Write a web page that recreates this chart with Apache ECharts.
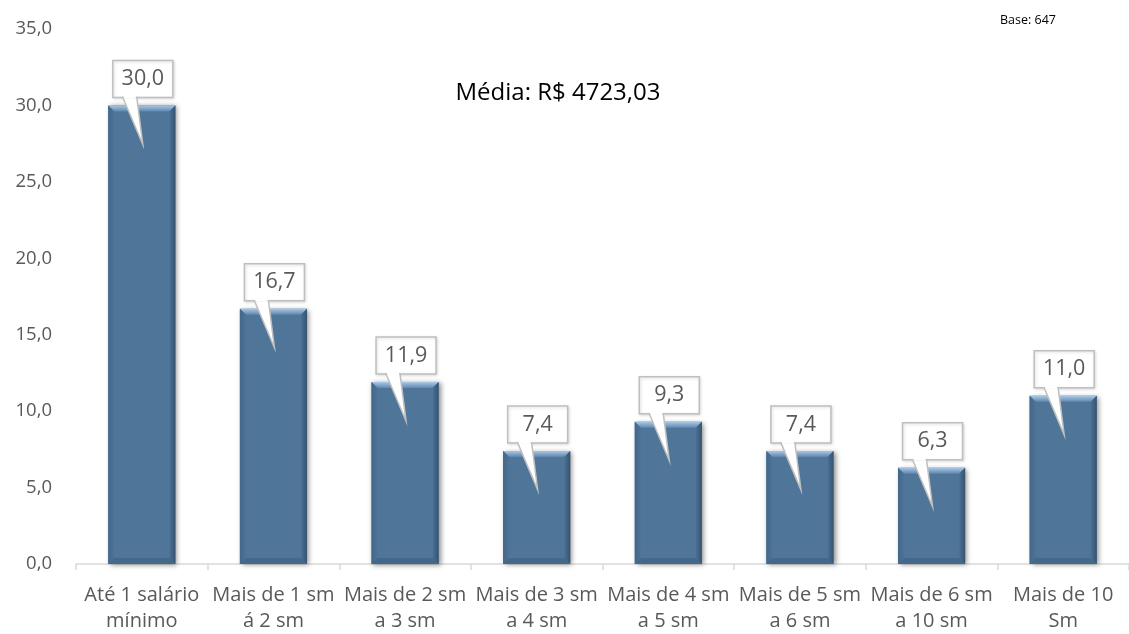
<!DOCTYPE html>
<html><head><meta charset="utf-8">
<script src="https://cdn.jsdelivr.net/npm/echarts@6/dist/echarts.min.js"></script>
<style>html,body{margin:0;padding:0;background:#fff}#c{width:1129px;height:634px}</style>
</head><body><div id="c"></div>
<script>
var categories = ['Até 1 salário\nmínimo','Mais de 1 sm\ná 2 sm','Mais de 2 sm\na 3 sm','Mais de 3 sm\na 4 sm','Mais de 4 sm\na 5 sm','Mais de 5 sm\na 6 sm','Mais de 6 sm\na 10 sm','Mais de 10\nSm'];
var values = [30.0, 16.7, 11.9, 7.4, 9.3, 7.4, 6.3, 11.0];
var yMin = 0, yMax = 35, yStep = 5;
var meanText = 'Média: R$ 4723,03';
var baseText = 'Base: 647';

var FONT = 'Open Sans';
function fmt(v){ return v.toFixed(1).replace('.', ','); }
var pts = values.map(function(v,i){ return [i, v]; });

var chart = echarts.init(document.getElementById('c'));
chart.setOption({
  animation: false,
  grid: { left: 76, right: -11, top: 29, bottom: 70, containLabel: false },
  xAxis: {
    type: 'category', data: categories,
    axisLine: { lineStyle: { color: '#d9d9d9', width: 1.5 } },
    axisTick: { show: true, length: 6, lineStyle: { color: '#d9d9d9', width: 1.5 } },
    axisLabel: { color: '#595959', fontSize: 20, fontFamily: FONT, lineHeight: 26, margin: 18, interval: 0 }
  },
  yAxis: {
    type: 'value', min: yMin, max: yMax, interval: yStep,
    splitLine: { show: false }, axisLine: { show: false }, axisTick: { show: false },
    axisLabel: { color: '#595959', fontSize: 18.5, fontFamily: FONT, margin: 24, formatter: fmt }
  },
  graphic: [
    { type: 'text', x: 558, y: 93, style: { text: meanText, fill: '#000', fontSize: 24, fontFamily: FONT, align: 'center', verticalAlign: 'middle' } },
    { type: 'text', left: 1000, top: 14, style: { text: baseText, fill: '#000', fontSize: 12.5, fontFamily: FONT } }
  ],
  series: [
    {
      type: 'custom', data: pts, z: 2,
      renderItem: function(params, api){
        var i = api.value(0), v = api.value(1);
        var top = api.coord([i, v]), base = api.coord([i, 0]);
        var w = api.size([1, 0])[0] * 0.51;
        var x0 = top[0] - w/2, x1 = top[0] + w/2, y0 = top[1], y1 = base[1];
        var b = 6;
        return { type: 'group', children: [
          { type: 'rect', shape: { x: x0, y: y0, width: w, height: y1 - y0 },
            style: { fill: '#4f7599', shadowBlur: 5, shadowColor: 'rgba(0,0,0,0.45)', shadowOffsetX: 2, shadowOffsetY: 1 } },
          { type: 'polygon', shape: { points: [[x0, y0],[x1, y0],[x1-b, y0+b],[x0+b, y0+b]] },
            style: { fill: new echarts.graphic.LinearGradient(0,0,0,1,[{offset:0,color:'#a9c8e8'},{offset:1,color:'#5f87ad'}]) } },
          { type: 'polygon', shape: { points: [[x0, y0],[x0+b, y0+b],[x0+b, y1-b],[x0, y1]] },
            style: { fill: new echarts.graphic.LinearGradient(0,0,1,0,[{offset:0,color:'#42678b'},{offset:1,color:'#4d7397'}]) } },
          { type: 'polygon', shape: { points: [[x1, y0],[x1-b, y0+b],[x1-b, y1-b],[x1, y1]] },
            style: { fill: new echarts.graphic.LinearGradient(0,0,1,0,[{offset:0,color:'#4b7195'},{offset:1,color:'#36536f'}]) } },
          { type: 'polygon', shape: { points: [[x0, y1],[x0+b, y1-b],[x1-b, y1-b],[x1, y1]] },
            style: { fill: '#446889' } }
        ]};
      }
    },
    {
      type: 'custom', data: pts, z: 5,
      renderItem: function(params, api){
        var i = api.value(0), v = api.value(1);
        var p = api.coord([i, v]);
        var cx = p[0] + 1, t = p[1];
        var bw = 60, bh = 37, gap = 8;
        var by = t - gap - bh;
        return { type: 'group', children: [
          { type: 'rect', shape: { x: cx - bw/2, y: by, width: bw, height: bh },
            style: { fill: '#fff', stroke: '#bfbfbf', lineWidth: 1.5, shadowBlur: 3, shadowColor: 'rgba(0,0,0,0.15)', shadowOffsetX: 1, shadowOffsetY: 1 } },
          { type: 'polygon', shape: { points: [[cx - 20, by + bh],[cx - 6, by + bh],[cx, t + 39]] },
            style: { fill: '#fff', stroke: '#bfbfbf', lineWidth: 1.5 } },
          { type: 'rect', shape: { x: cx - 19, y: by + bh - 2, width: 12, height: 3 },
            style: { fill: '#fff' } },
          { type: 'text', x: cx, y: by + bh/2,
            style: { text: fmt(v), fill: '#595959', fontSize: 21.5, fontFamily: FONT, align: 'center', verticalAlign: 'middle' } }
        ]};
      }
    }
  ]
});
</script></body></html>
